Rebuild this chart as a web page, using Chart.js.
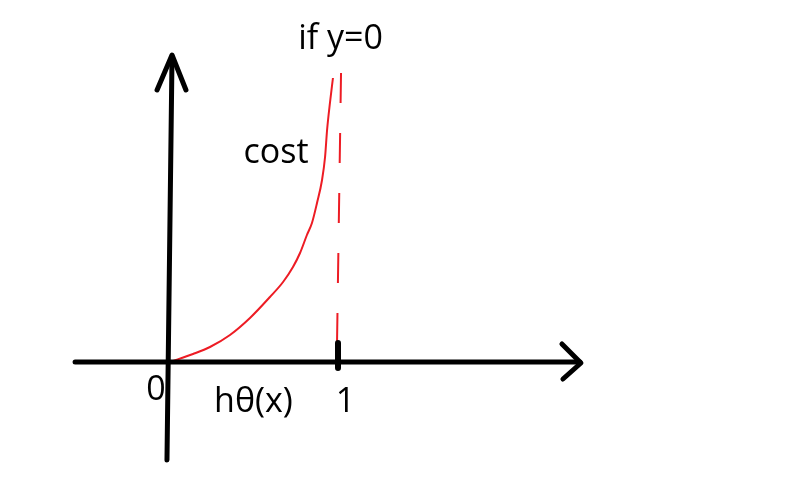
<!DOCTYPE html>
<html>
<head>
<meta charset="utf-8">
<script src="https://cdn.jsdelivr.net/npm/chart.js@4"></script>
<style>
  html, body { margin: 0; padding: 0; background: #fff; }
  #c { display: block; }
</style>
</head>
<body>
<canvas id="c" width="788" height="479"></canvas>
<script>
// cost curve for y=0, x = h(x) in [0,1)
const curveX = [0, 0.137, 0.238, 0.357, 0.476, 0.595, 0.673, 0.732, 0.774, 0.815, 0.845, 0.875, 0.905, 0.923, 0.935, 0.952, 0.970];
const curveY = [0, 0.08, 0.15, 0.27, 0.44, 0.65, 0.80, 0.95, 1.09, 1.27, 1.39, 1.59, 1.82, 2.05, 2.32, 2.59, 2.84];

// asymptote at h=1
const asymX = [1.018, 0.994];
const asymY = [2.89, 0.17];

// hand drawn axes
const xAxisX = [-0.565, 2.44];
const xAxisY = [0, 0];
const yAxisX = [-0.018, 0.012];
const yAxisY = [-0.98, 3.05];
const yArrowX = [-0.077, 0.012, 0.095];
const yArrowY = [2.72, 3.07, 2.72];
const xArrowX = [2.333, 2.446, 2.339];
const xArrowY = [0.18, -0.01, -0.17];
const tickX = [1.0, 1.0];
const tickY = [0.19, -0.06];

const labelText = ["if y=0", "cost", "0", "hθ(x)", "1"];
const labelX = [1.015, 0.631, -0.083, 0.497, 1.045];
const labelY = [3.13, 1.99, -0.38, -0.50, -0.50];

function pts(xs, ys) {
  return xs.map((x, i) => ({ x: x, y: ys[i] }));
}

function stroke(xs, ys, color, width, extra) {
  return Object.assign({
    data: pts(xs, ys),
    showLine: true,
    borderColor: color,
    borderWidth: width,
    pointRadius: 0,
    borderCapStyle: "round",
    borderJoinStyle: "round",
    tension: 0
  }, extra || {});
}

const textPlugin = {
  id: "sketchText",
  afterDatasetsDraw(chart) {
    const ctx = chart.ctx;
    const sx = chart.scales.x, sy = chart.scales.y;
    ctx.save();
    ctx.fillStyle = "#000";
    ctx.font = '34px "Open Sans", "Noto Sans", sans-serif';
    ctx.textAlign = "center";
    ctx.textBaseline = "alphabetic";
    labelText.forEach((t, i) => {
      ctx.fillText(t, sx.getPixelForValue(labelX[i]), sy.getPixelForValue(labelY[i]));
    });
    ctx.restore();
  }
};

new Chart(document.getElementById("c"), {
  type: "scatter",
  data: {
    datasets: [
      stroke(xAxisX, xAxisY, "#000", 5),
      stroke(yAxisX, yAxisY, "#000", 5),
      stroke(yArrowX, yArrowY, "#000", 5),
      stroke(xArrowX, xArrowY, "#000", 5),
      stroke(tickX, tickY, "#000", 6),
      stroke(curveX, curveY, "#ed1c24", 2, { cubicInterpolationMode: "monotone", borderCapStyle: "butt" }),
      stroke(asymX, asymY, "#ed1c24", 2, { borderDash: [30, 30], borderCapStyle: "butt" })
    ]
  },
  options: {
    responsive: false,
    animation: false,
    layout: { padding: 0 },
    plugins: { legend: { display: false }, tooltip: { enabled: false } },
    scales: {
      x: { type: "linear", display: false, min: -170 / 168, max: (788 - 170) / 168 },
      y: { type: "linear", display: false, min: -(479 - 362) / 100, max: 362 / 100 }
    }
  },
  plugins: [textPlugin]
});
</script>
</body>
</html>
